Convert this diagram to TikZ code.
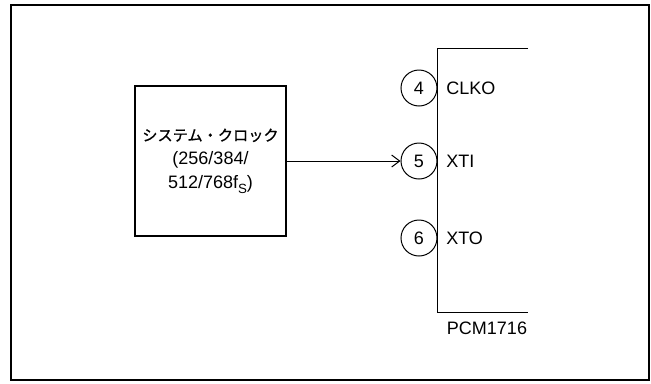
\documentclass[tikz,border=0pt]{standalone}
\usepackage{fontspec}
\setmainfont{Liberation Sans}
\newfontfamily\cjk[FakeBold=0.8]{Noto Sans CJK JP}
\usetikzlibrary{arrows.meta}
\begin{document}
\begin{tikzpicture}[x=0.75pt,y=-0.75pt,
  pinnum/.style={draw, circle, line width=0.75pt, minimum size=27pt, inner sep=0pt, font=\fontsize{13.5}{16}\selectfont},
  pinname/.style={anchor=west, inner sep=0pt, font=\fontsize{13.5}{16}\selectfont},
  clockbox/.style={draw, line width=1.1pt, minimum width=113pt, minimum height=112.5pt, align=center, inner sep=0pt, font=\fontsize{13.5}{18}\selectfont}]
\useasboundingbox (0,0) rectangle (651,383);
\draw[line width=1.5pt] (11,5) rectangle (649,380);
% clock source
\node[clockbox] (clk) at (210.5,161) {{\cjk\fontsize{11.4}{18}\selectfont システム・クロック}\\(256/384/\\512/768f\raisebox{-0.45ex}{\fontsize{10}{12}\selectfont S})};
% device outline
\coordinate (chiptl) at (528,48);
\coordinate (chipt) at (437,48);
\coordinate (chipb) at (437,312);
\coordinate (chipbr) at (528,312);
\draw[line width=0.75pt] (chiptl) -- (chipt) -- (chipb) -- (chipbr);
\node[inner sep=0pt, font=\fontsize{13.5}{16}\selectfont] (part) at (487,328) {PCM1716};
% pins
\node[pinnum] (p4) at (419,88) {4};
\node[pinnum] (p5) at (419,161) {5};
\node[pinnum] (p6) at (419,238) {6};
\node[pinname] (n4) at (446,88) {CLKO};
\node[pinname] (n5) at (446,161) {XTI};
\node[pinname] (n6) at (446,238) {XTO};
\draw[line width=0.75pt, -{Straight Barb[length=6pt,width=9pt]}] (clk.east) -- (p5.west);
\end{tikzpicture}
\end{document}
